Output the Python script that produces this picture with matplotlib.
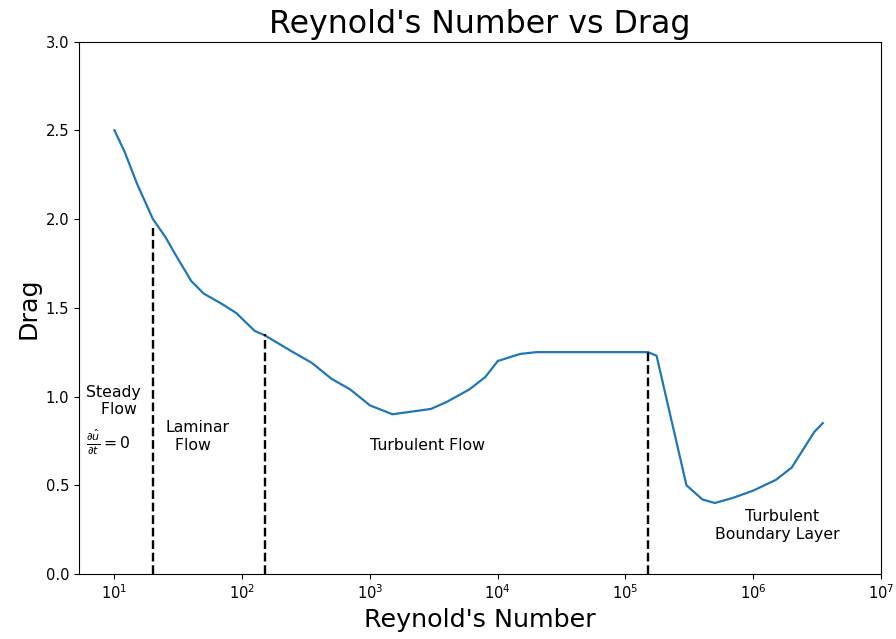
import matplotlib
matplotlib.use("Agg")
import matplotlib.pyplot as plt

# Reynold's number vs drag
reynolds = [10, 12, 15, 20, 25, 30, 40, 50, 70, 90, 125, 150, 250, 350, 500,
            700, 1000, 1500, 3000, 4000, 6000, 8000, 1e4, 1.5e4, 2e4, 1.5e5,
            1.75e5, 3e5, 4e5, 5e5, 7e5, 1e6, 1.5e6, 2e6, 3e6, 3.5e6]
drag = [2.5, 2.38, 2.2, 2.0, 1.9, 1.8, 1.65, 1.58, 1.52, 1.47, 1.37, 1.345,
        1.25, 1.19, 1.1, 1.04, 0.95, 0.9, 0.93, 0.97, 1.04, 1.11, 1.2, 1.24,
        1.25, 1.25, 1.23, 0.5, 0.42, 0.4, 0.43, 0.47, 0.53, 0.6, 0.8, 0.85]

# regime boundaries: (Re, top of dashed line)
bound_re = [20, 150, 1.5e5]
bound_top = [1.95, 1.35, 1.25]

x_ticks = [1e1, 1e2, 1e3, 1e4, 1e5, 1e6, 1e7]

fig = plt.figure(figsize=(8.96, 6.39), dpi=100)
ax = fig.add_axes([0.0882, 0.1017, 0.8951, 0.8333])

ax.plot(reynolds, drag, color='#1f77b4', lw=1.6)
ax.vlines(bound_re, 0, bound_top, colors='black', linestyles='dashed', lw=1.7)

ax.set_xscale('log')
ax.minorticks_off()
ax.set_xticks(x_ticks)
ax.set_xlim(10**0.723, 1e7)
ax.set_ylim(0, 3.0)

ax.text(6, 0.9, 'Steady\n   Flow', fontsize=11.3)
ax.text(6, 0.71, r'$\frac{\partial \hat{u}}{\partial t} = 0$', fontsize=11.3)
ax.text(25, 0.7, 'Laminar\n  Flow', fontsize=11.3)
ax.text(1e3, 0.7, 'Turbulent Flow', fontsize=11.3)
ax.text(5e5, 0.2, '      Turbulent\nBoundary Layer', fontsize=11.3)

ax.set_title("Reynold's Number vs Drag", fontsize=22.8)
ax.set_xlabel("Reynold's Number", fontsize=18.3)
ax.set_ylabel("Drag", fontsize=18.3)
ax.tick_params(labelsize=10.6)

fig.savefig('out.png', dpi=100)
